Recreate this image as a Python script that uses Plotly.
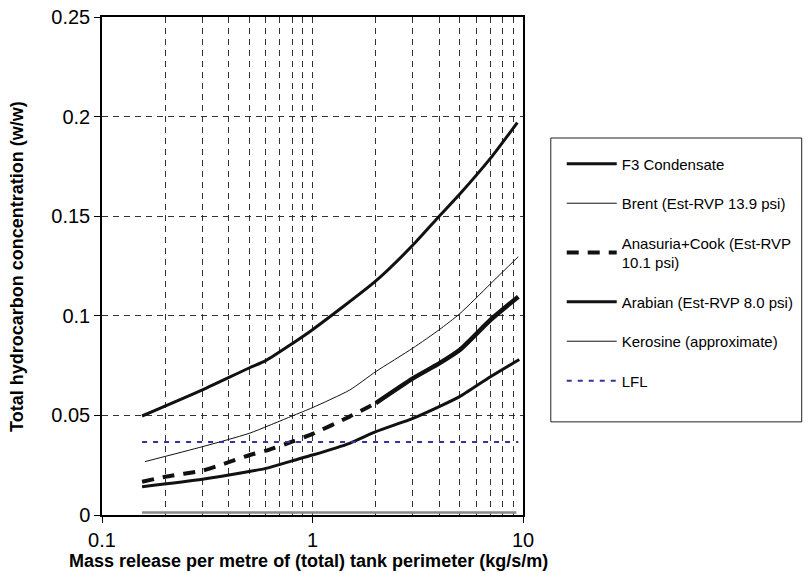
import plotly.graph_objects as go

# Data
x_f3 = [0.155, 0.3, 0.5, 0.6, 0.8, 1.0, 2.0, 3.0, 4.0, 5.0, 7.0, 9.4]
y_f3 = [0.0497, 0.0628, 0.0738, 0.0775, 0.086, 0.093, 0.1175, 0.1355, 0.150, 0.161, 0.179, 0.197]

x_brent = [0.16, 0.3, 0.5, 0.8, 1.0, 1.5, 2.0, 3.0, 4.0, 5.0, 7.0, 9.5]
y_brent = [0.0268, 0.0343, 0.041, 0.0497, 0.0539, 0.0627, 0.072, 0.0838, 0.093, 0.101, 0.116, 0.1297]

x_ana = [0.155, 0.2, 0.3, 0.4, 0.5, 0.6, 0.8, 1.0, 1.5, 2.0]
y_ana = [0.0167, 0.0192, 0.0223, 0.0265, 0.030, 0.0323, 0.0368, 0.0407, 0.0494, 0.0562]
x_ana_hi = [2.0, 3.0, 4.0, 5.0, 7.0, 9.5]
y_ana_hi = [0.0562, 0.0686, 0.0761, 0.0828, 0.0979, 0.1096]

x_arab = [0.155, 0.3, 0.5, 0.6, 0.8, 1.0, 1.5, 2.0, 3.0, 4.0, 5.0, 7.0, 9.6]
y_arab = [0.0142, 0.0179, 0.0218, 0.0234, 0.0272, 0.0301, 0.036, 0.0418, 0.0485, 0.0544, 0.0594, 0.0694, 0.0781]

x_kero = [0.155, 9.3]
y_kero = [0.0012, 0.0012]

x_lfl = [0.155, 9.5]
y_lfl = [0.0366, 0.0366]

x_ticks = [0.1, 1, 10]
x_ticktext = ["0.1", "1", "10"]
x_minor = [0.2, 0.3, 0.4, 0.5, 0.6, 0.7, 0.8, 0.9, 2, 3, 4, 5, 6, 7, 8, 9]
y_ticks = [0, 0.05, 0.1, 0.15, 0.2, 0.25]
y_ticktext = ["0", "0.05", "0.1", "0.15", "0.2", "0.25"]

x_title = "Mass release per metre of (total) tank perimeter (kg/s/m)"
y_title = "Total hydrocarbon concentration (w/w)"

FONT = "Liberation Sans, Arial, Helvetica, sans-serif"
SMOOTH = dict(shape="spline", smoothing=0.6)

fig = go.Figure()
fig.add_trace(go.Scatter(x=x_f3, y=y_f3, mode="lines", name="F3 Condensate",
                         line=dict(color="#111", width=3, **SMOOTH), legendgroup="a"))
fig.add_trace(go.Scatter(x=x_brent, y=y_brent, mode="lines", name="Brent (Est-RVP 13.9 psi)",
                         line=dict(color="#111", width=1, **SMOOTH), legendgroup="b"))
fig.add_trace(go.Scatter(x=x_ana, y=y_ana, mode="lines", name="Anasuria+Cook (Est-RVP<br>10.1 psi)",
                         line=dict(color="#111", width=4, dash="12px,9px", **SMOOTH), legendgroup="c"))
fig.add_trace(go.Scatter(x=x_ana_hi, y=y_ana_hi, mode="lines", showlegend=False,
                         line=dict(color="#111", width=4.5, **SMOOTH), legendgroup="c"))
fig.add_trace(go.Scatter(x=x_arab, y=y_arab, mode="lines", name="Arabian (Est-RVP 8.0 psi)",
                         line=dict(color="#111", width=3, **SMOOTH), legendgroup="d"))
fig.add_trace(go.Scatter(x=x_kero, y=y_kero, mode="lines", showlegend=False,
                         line=dict(color="#8a8a8a", width=2.5), legendgroup="e"))
fig.add_trace(go.Scatter(x=[None], y=[None], mode="lines", name="Kerosine (approximate)",
                         line=dict(color="#111", width=1), legendgroup="e"))
fig.add_trace(go.Scatter(x=x_lfl, y=y_lfl, mode="lines", name="LFL",
                         line=dict(color="#34349a", width=2, dash="5px,6px"), legendgroup="f"))

fig.update_layout(
    width=811, height=573,
    margin=dict(l=102, r=283, t=17, b=58),
    paper_bgcolor="white", plot_bgcolor="white",
    font=dict(family=FONT, color="black"),
    xaxis=dict(
        type="log", range=[-1, 1], automargin=False,
        tickmode="array", tickvals=x_ticks, ticktext=x_ticktext,
        tickfont=dict(size=20), ticks="outside", ticklen=6, tickcolor="black",
        showgrid=True, gridcolor="#333", griddash="6px,5px", gridwidth=1,
        minor=dict(tickmode="array", tickvals=x_minor, showgrid=True,
                   gridcolor="#333", griddash="6px,5px", gridwidth=1, ticks=""),
        showline=True, linecolor="black", linewidth=1.5, mirror=True,
        zeroline=False,
    ),
    yaxis=dict(
        range=[0, 0.25], automargin=False,
        tickmode="array", tickvals=y_ticks, ticktext=y_ticktext,
        tickfont=dict(size=20), ticks="outside", ticklen=6, tickcolor="black",
        showgrid=True, gridcolor="#333", griddash="6px,5px", gridwidth=1,
        showline=True, linecolor="black", linewidth=1.5, mirror=True,
        zeroline=False,
    ),
    legend=dict(
        x=1.092, y=0.738, xanchor="left", yanchor="top",
        bgcolor="rgba(0,0,0,0)", borderwidth=0,
        font=dict(size=15, color="black"),
        tracegroupgap=17, itemwidth=50,
    ),
    showlegend=True,
)

fig.add_annotation(text="<b>" + x_title + "</b>", xref="paper", yref="paper",
                   x=0.49, y=-0.092, xanchor="center", yanchor="middle",
                   showarrow=False, font=dict(size=18))
fig.add_annotation(text="<b>" + y_title + "</b>", xref="paper", yref="paper",
                   x=-0.202, y=0.5, xanchor="center", yanchor="middle", textangle=-90,
                   showarrow=False, font=dict(size=18))

fig.add_shape(type="rect", xref="paper", yref="paper",
              x0=1.066, x1=1.662, y0=0.187, y1=0.757,
              line=dict(color="#222", width=1), fillcolor="rgba(0,0,0,0)")

fig.write_html("out.html", config={"displayModeBar": False},
               post_script="document.body.style.margin='0';document.body.style.overflow='hidden';")
